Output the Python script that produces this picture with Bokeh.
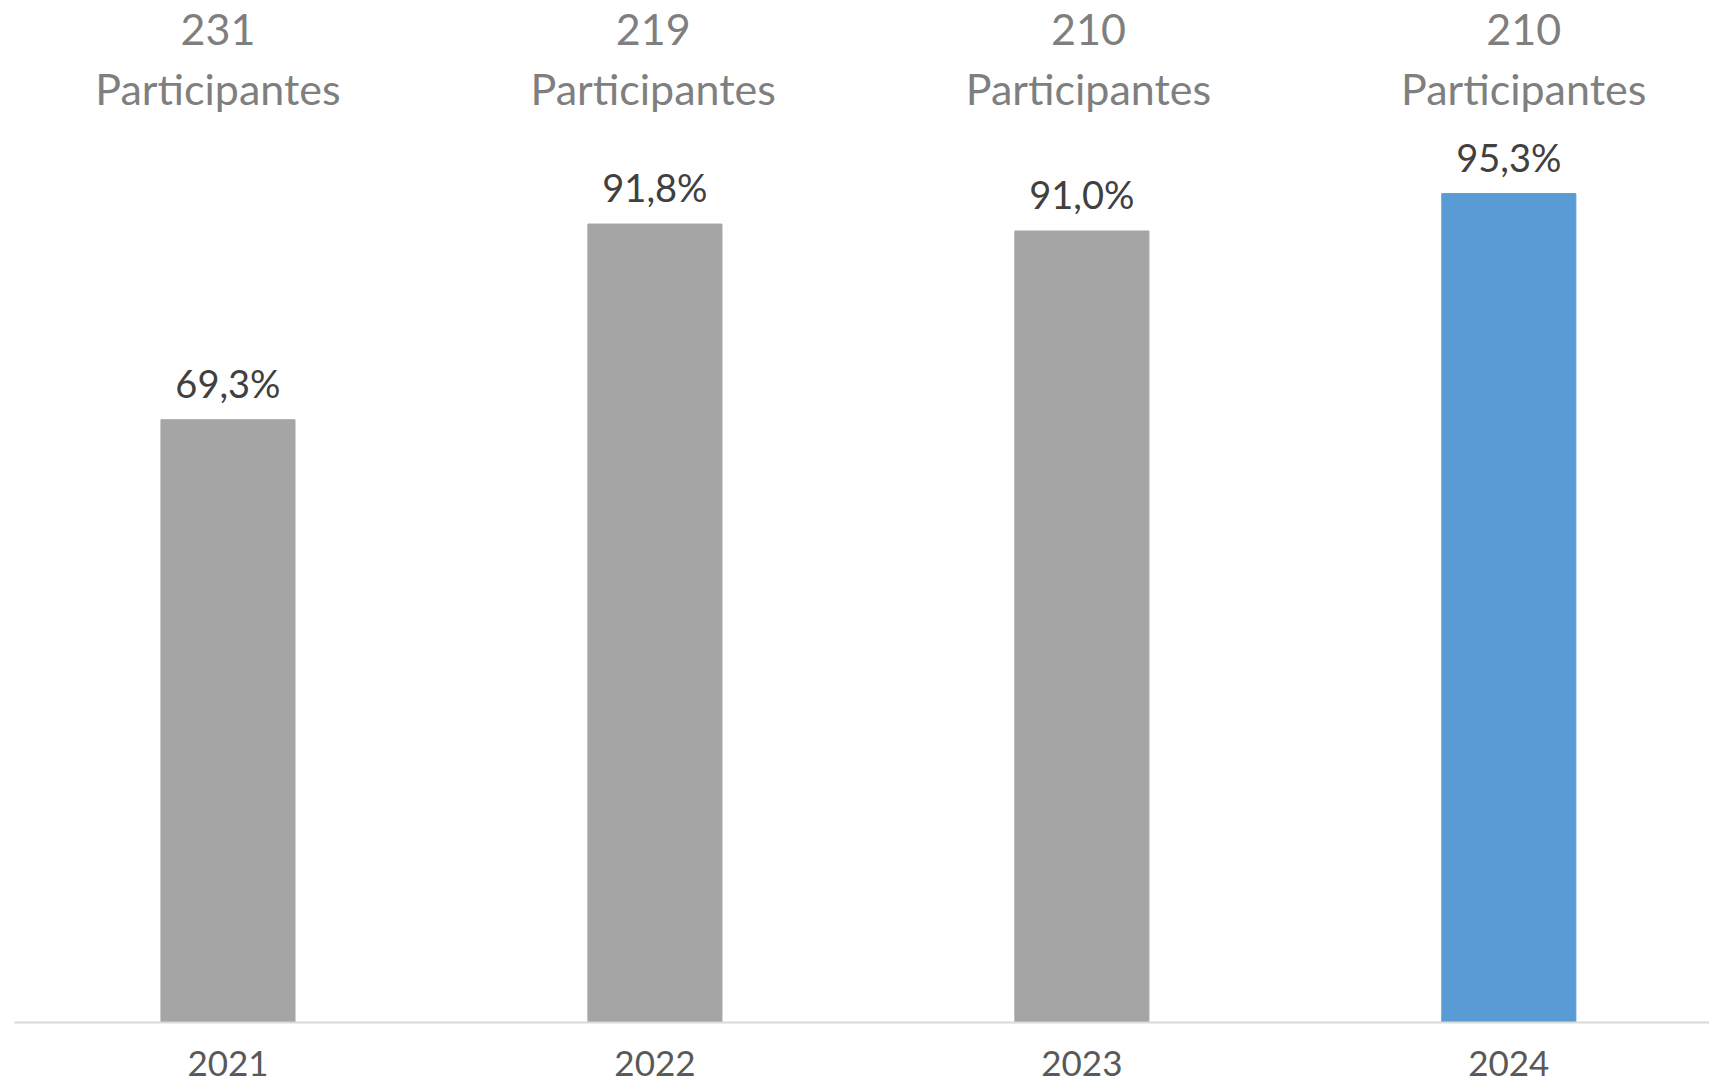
from bokeh.plotting import figure
from bokeh.models import ColumnDataSource, FixedTicker, Range1d
from bokeh.embed import file_html
from bokeh.resources import INLINE
from bokeh.core.properties import value

years = ["2021", "2022", "2023", "2024"]
rates = [69.3, 91.8, 91.0, 95.3]
participants = [231, 219, 210, 210]
colors = ["#A5A5A5", "#A5A5A5", "#A5A5A5", "#5B9BD5"]

FONT = "Lato"
xs = [i + 0.5 for i in range(len(years))]
rate_labels = [f"{r:.1f}".replace(".", ",") + "%" for r in rates]
top_labels = [f"{n}\nParticipantes" for n in participants]

YMAX = 117.5
src = ColumnDataSource(dict(x=xs, top=rates, color=colors, rlab=rate_labels,
                            tlab=top_labels))

p = figure(width=1709, height=1087, output_backend="svg", toolbar_location=None,
           x_range=Range1d(0, 3.970), y_range=Range1d(0, YMAX),
           min_border_left=14, min_border_right=0, min_border_top=0, min_border_bottom=65)
# header row is laid out on slightly wider columns than the bars
p.extra_x_ranges = {"hdr": Range1d(0.0324, 3.927)}
p.outline_line_color = None
p.background_fill_color = "white"
p.border_fill_color = "white"

p.vbar(x="x", top="top", bottom=0, width=0.314, color="color", source=src)

p.text(x="x", y="top", text="rlab", source=src, text_align="center",
       text_baseline="bottom", y_offset=-14, text_font=value(FONT),
       text_font_size="38px", text_color="#404040")

p.text(x="x", y=YMAX, text="tlab", source=src, x_range_name="hdr",
       text_align="center", text_baseline="top", y_offset=2, text_font=value(FONT),
       text_font_size="43px", text_color="#7F7F7F", text_line_height=1.18)

p.yaxis.visible = False
p.ygrid.visible = False
p.xgrid.visible = False
p.xaxis.ticker = FixedTicker(ticks=xs)
p.xaxis.major_label_overrides = {x: y for x, y in zip(xs, years)}
p.xaxis.axis_line_color = "#D9D9D9"
p.xaxis.axis_line_width = 2
p.xaxis.major_tick_line_color = None
p.xaxis.minor_tick_line_color = None
p.xaxis.major_label_standoff = 22
p.xaxis.major_label_text_font = FONT
p.xaxis.major_label_text_font_size = "35px"
p.xaxis.major_label_text_color = "#595959"

open("out.html", "w").write(file_html(p, INLINE))
